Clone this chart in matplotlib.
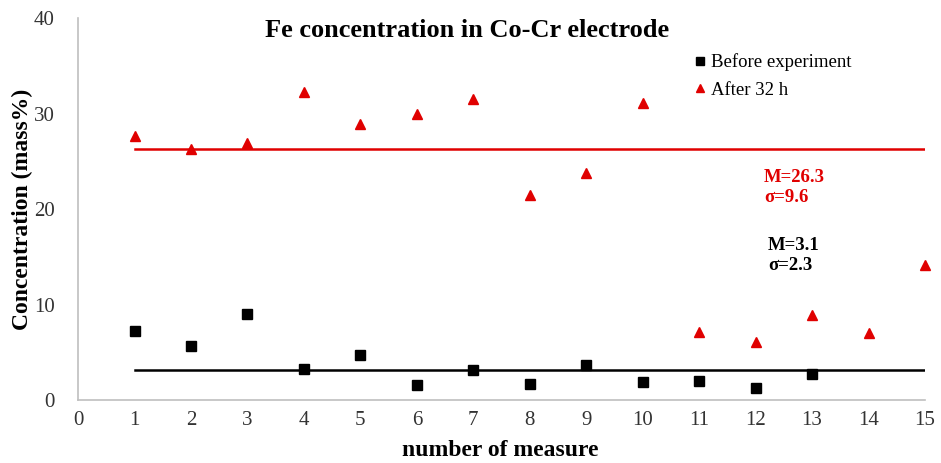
import matplotlib.pyplot as plt
import numpy as np

plt.rcParams['font.family'] = ['Liberation Serif', 'DejaVu Serif']

measure = np.arange(1, 16)
before = [7.2, 5.7, 9.0, 3.3, 4.7, 1.6, 3.1, 1.7, 3.7, 1.9, 2.0, 1.3, 2.7, np.nan, np.nan]
after = [27.6, 26.3, 26.9, 32.3, 28.9, 30.0, 31.5, 21.5, 23.8, 31.1, 7.1, 6.1, 8.9, 7.0, 14.1]
mean_before, sd_before = 3.1, 2.3
mean_after, sd_after = 26.3, 9.6

fig = plt.figure(figsize=(9.41, 4.63), dpi=100)
ax = fig.add_axes([0.083, 0.136, 0.9, 0.825])

ax.plot(measure, before, 's', color='black', markersize=7, clip_on=False, label='Before experiment')
ax.plot(measure, after, '^', color='#e00000', markersize=7, clip_on=False, label='After 32 h')
ax.plot([1, 15], [mean_after, mean_after], color='#e00000', lw=1.8)
ax.plot([1, 15], [mean_before, mean_before], color='black', lw=1.8)

ax.text(12.15, 24.2, f'M={mean_after}\nσ={sd_after}', color='#e00000', fontsize=13.5,
        fontweight='bold', va='top', linespacing=1.25)
ax.text(12.22, 17.1, f'M={mean_before}\nσ={sd_before}', color='black', fontsize=13.5,
        fontweight='bold', va='top', linespacing=1.25)

ax.set_xlim(0, 15)
ax.set_ylim(0, 40)
ax.set_xticks(range(0, 16))
ax.set_yticks([0, 10, 20, 30, 40])
ax.tick_params(length=0, labelsize=15, colors='#333333')
ax.tick_params(axis='x', pad=8)
ax.tick_params(axis='y', pad=17)
for s in ['top', 'right']:
    ax.spines[s].set_visible(False)
for s in ['left', 'bottom']:
    ax.spines[s].set_color('#bfbfbf')
    ax.spines[s].set_linewidth(1.2)

ax.text(0.459, 0.967, 'Fe concentration in Co-Cr electrode', transform=ax.transAxes,
        fontsize=19, fontweight='bold', ha='center', va='center')
ax.set_xlabel('number of measure', fontsize=17, fontweight='bold')
ax.set_ylabel('Concentration (mass%)', fontsize=17, fontweight='bold')
ax.xaxis.set_label_coords(0.498, -0.131)
ax.yaxis.set_label_coords(-0.066, 0.5)
ax.xaxis.label.set_va('center')
ax.yaxis.label.set_va('center')

ax.legend(loc='upper left', bbox_to_anchor=(0.707, 0.942), frameon=False, fontsize=13.5,
          handletextpad=0.0, handlelength=1.1, markerscale=0.9, labelspacing=0.55,
          borderpad=0.2)

fig.savefig('out.png', dpi=100)
